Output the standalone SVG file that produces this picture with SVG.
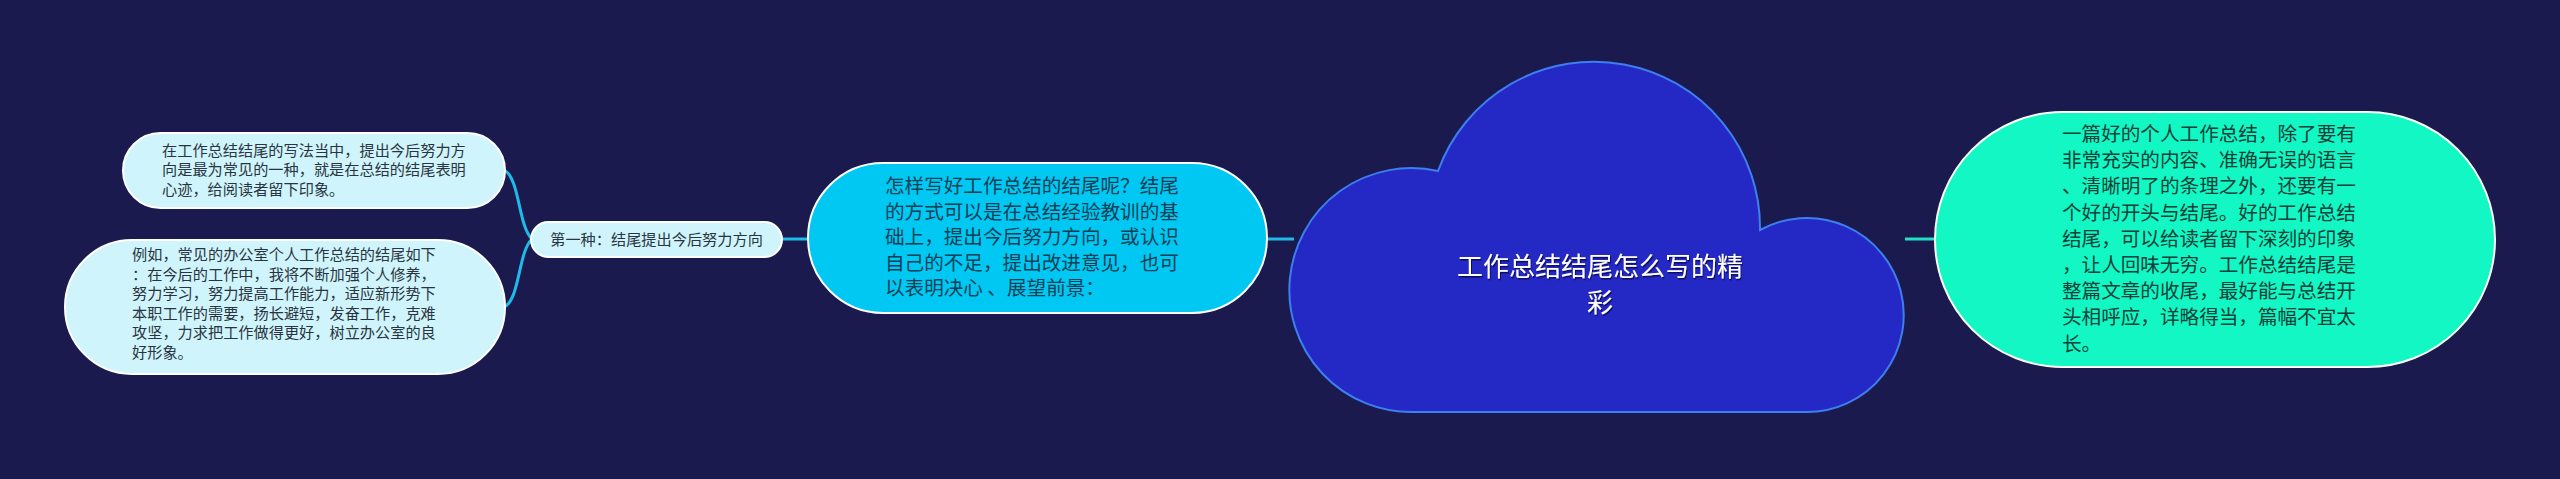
<svg xmlns="http://www.w3.org/2000/svg" width="2560" height="479" viewBox="0 0 2560 479">
<defs>
<style>
.t{font-family:"Noto Sans CJK SC","Noto Sans",sans-serif;}
.small{font-size:15.2px;fill:#2a3440;}
.mid{font-size:19.6px;}
.n4t{fill:#0d3f55;}
.n5t{fill:#0c4038;}
.light{fill:#cff4fb;stroke:#ffffff;stroke-width:2;}
.conL{fill:none;stroke:#1fbbe8;stroke-width:3;}
.conR{fill:none;stroke:#1fe0c4;stroke-width:3;}
.title{font-size:26px;fill:#ffffff;}
</style>
<filter id="ts" x="-10%" y="-30%" width="120%" height="160%">
<feDropShadow dx="1" dy="1.5" stdDeviation="0.6" flood-color="#000030" flood-opacity="0.7"/>
</filter>
</defs>
<rect x="0" y="0" width="2560" height="479" fill="#1b1a4f"/>
<g id="connectors">
<path class="conL" d="M532,239 C518,226 520,178 504,170"/>
<path class="conL" d="M532,239 C518,252 520,300 504,307"/>
<path class="conL" d="M782,239 L808,239"/>
<path class="conL" d="M1267,239 L1294,239"/>
<path class="conR" d="M1905,239 L1935,239"/>
</g>
<g id="node-center">
<path d="M1415,412 L1807,412 A97,97 0 1 0 1760,230 A166,166 0 0 0 1438,171 A122,122 0 1 0 1415,412 Z" fill="#2428c4" stroke="#3d7ff0" stroke-width="2"/>
<g class="t title" text-anchor="middle" filter="url(#ts)">
<text x="1600" y="276">工作总结结尾怎么写的精</text>
<text x="1600" y="312">彩</text>
</g>
</g>
<g id="node-right">
<rect x="1935" y="112" width="560" height="255" rx="127.5" ry="127.5" fill="#12f7c3" stroke="#ffffff" stroke-width="2"/>
<g class="t mid n5t">
<text x="2062" y="141">一篇好的个人工作总结，除了要有</text>
<text x="2062" y="167.2">非常充实的内容、准确无误的语言</text>
<text x="2062" y="193.4">、清晰明了的条理之外，还要有一</text>
<text x="2062" y="219.6">个好的开头与结尾。好的工作总结</text>
<text x="2062" y="245.8">结尾，可以给读者留下深刻的印象</text>
<text x="2062" y="272">，让人回味无穷。工作总结结尾是</text>
<text x="2062" y="298.2">整篇文章的收尾，最好能与总结开</text>
<text x="2062" y="324.4">头相呼应，详略得当，篇幅不宜太</text>
<text x="2062" y="350.6">长。</text>
</g>
</g>
<g id="node-main-left">
<rect x="808" y="163" width="459" height="150" rx="75" ry="75" fill="#00c8f2" stroke="#ffffff" stroke-width="2"/>
<g class="t mid n4t">
<text x="885" y="193">怎样写好工作总结的结尾呢？结尾</text>
<text x="885" y="218.5">的方式可以是在总结经验教训的基</text>
<text x="885" y="244">础上，提出今后努力方向，或认识</text>
<text x="885" y="269.5">自己的不足，提出改进意见，也可</text>
<text x="885" y="295">以表明决心 、展望前景：</text>
</g>
</g>
<g id="node-branch">
<rect class="light" x="531" y="222" width="251" height="35" rx="17.5" ry="17.5"/>
<text class="t small" x="656.5" y="245" text-anchor="middle">第一种：结尾提出今后努力方向</text>
</g>
<g id="node-leaf-1">
<rect class="light" x="123" y="133" width="382" height="75" rx="37.5" ry="37.5"/>
<g class="t small">
<text x="162" y="155.5">在工作总结结尾的写法当中，提出今后努力方</text>
<text x="162" y="175">向是最为常见的一种，就是在总结的结尾表明</text>
<text x="162" y="194.5">心迹，给阅读者留下印象。</text>
</g>
</g>
<g id="node-leaf-2">
<rect class="light" x="65" y="240" width="440" height="134" rx="67" ry="67"/>
<g class="t small">
<text x="132" y="260">例如，常见的办公室个人工作总结的结尾如下</text>
<text x="132" y="279.5">：在今后的工作中，我将不断加强个人修养，</text>
<text x="132" y="299">努力学习，努力提高工作能力，适应新形势下</text>
<text x="132" y="318.5">本职工作的需要，扬长避短，发奋工作，克难</text>
<text x="132" y="338">攻坚，力求把工作做得更好，树立办公室的良</text>
<text x="132" y="357.5">好形象。</text>
</g>
</g>
</svg>
